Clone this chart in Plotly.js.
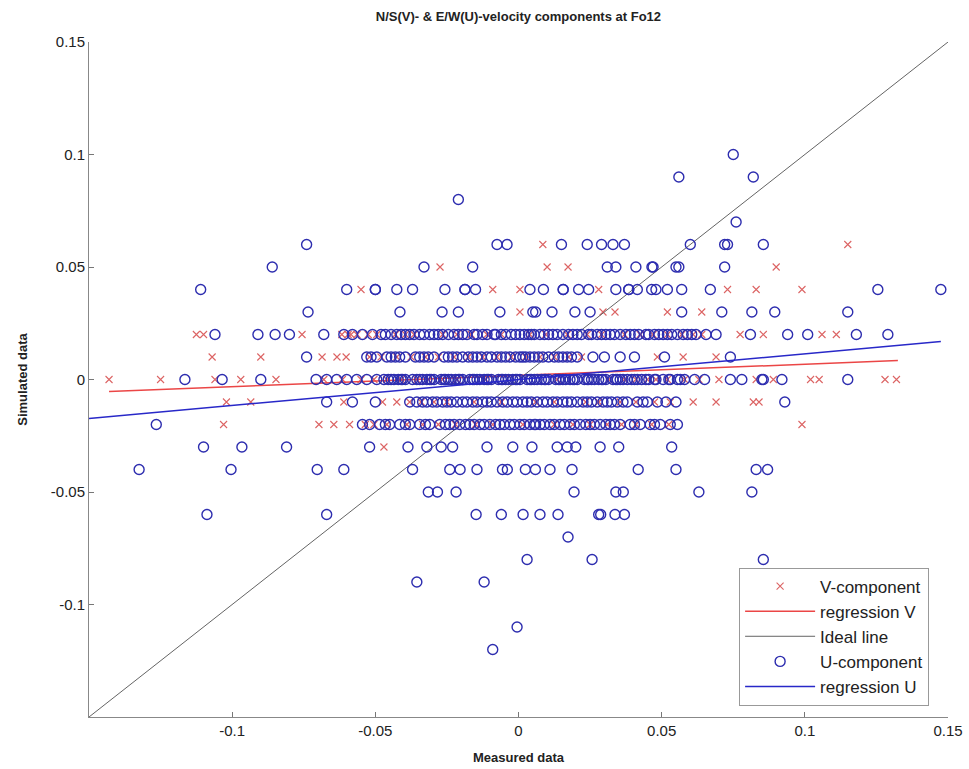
<!DOCTYPE html>
<html>
<head>
<meta charset="utf-8">
<script src="https://cdn.plot.ly/plotly-3.0.1.min.js"></script>
<style>html,body{margin:0;padding:0;background:#fff;}#chart{width:969px;height:769px;}</style>
</head>
<body>
<div id="chart"></div>
<script>
// ---- U-component (circles): measured x, simulated y, listed row by row ----
const uMeasured = [
  0.075,
  0.056, 0.082,
  -0.021,
  0.076,
  -0.074, -0.0075, -0.004, 0.015, 0.024, 0.029, 0.033, 0.037, 0.060, 0.072, 0.073, 0.0855,
  -0.086, -0.033, -0.016, 0.031, 0.034, 0.041, 0.0466, 0.047, 0.055, 0.056, 0.072,
  -0.111, -0.060, -0.050, -0.050, -0.0425, -0.037, -0.0257, -0.0187, -0.0187, -0.015, 0.004, 0.0087, 0.0156, 0.0156, 0.021, 0.0245, 0.034, 0.0385, 0.0385, 0.0415, 0.0465, 0.048, 0.052, 0.057, 0.067, 0.1255, 0.1475,
  -0.0735, -0.0414, -0.0267, -0.021, -0.0065, 0.005, 0.006, 0.0117, 0.0197, 0.025, 0.057, 0.071, 0.0815, 0.0895, 0.115,
  -0.106, -0.091, -0.085, -0.080, -0.068, -0.061, -0.058, -0.0545, -0.051, -0.048, -0.0445, -0.041, -0.038, -0.0345, -0.031, -0.028, -0.0245, -0.021, -0.018, -0.0145, -0.011, -0.008, -0.0045, -0.001, 0.002, 0.0055, 0.009, 0.012, 0.0155, 0.019, 0.022, 0.0255, 0.029, 0.032, 0.0355, 0.039, 0.042, 0.0455, 0.049, 0.052, 0.0555, 0.059, 0.062, 0.0655, 0.069, -0.0195, -0.0125, 0.0005, 0.0075, 0.0135, 0.0205, 0.0275, 0.0335, 0.0405, -0.0465, -0.0395, -0.033, -0.0265, -0.006, 0.0045, 0.0475, 0.0535, 0.0605, 0.081, 0.094, 0.101, 0.118, 0.129,
  -0.074, -0.053, -0.0495, -0.046, -0.043, -0.0395, -0.036, -0.033, -0.0295, -0.026, -0.023, -0.0195, -0.016, -0.013, -0.0095, -0.006, -0.003, 0.0005, 0.004, 0.007, 0.0105, 0.014, 0.017, 0.0205, -0.0245, -0.011, -0.001, 0.0085, -0.0445, -0.0345, -0.0175, -0.0045, 0.0025, 0.0155, 0.026, 0.030, 0.0355, 0.0405, 0.051, 0.074,
  -0.1165, -0.1035, -0.09, -0.0707, -0.067, -0.0635, -0.06, -0.0565, -0.053, -0.0495, -0.047, -0.0445, -0.042, -0.0395, -0.037, -0.0345, -0.032, -0.0295, -0.027, -0.0245, -0.022, -0.0195, -0.017, -0.0145, -0.012, -0.0095, -0.007, -0.0045, -0.002, 0.0005, 0.003, 0.0055, 0.008, 0.0105, 0.013, 0.0155, 0.018, 0.0205, 0.023, 0.0255, 0.028, 0.0305, 0.033, 0.0355, 0.038, 0.0405, 0.043, 0.0455, 0.048, 0.0505, 0.053, 0.0555, 0.058, 0.0615, 0.065, -0.041, -0.031, -0.026, -0.021, -0.016, -0.011, -0.006, -0.001, 0.004, 0.009, 0.014, 0.019, 0.024, 0.029, 0.034, -0.0455, -0.0405, -0.0355, -0.0305, -0.0255, -0.0205, -0.0155, -0.0105, -0.0055, -0.0005, 0.0045, 0.0095, 0.0145, 0.0195, 0.0245, 0.0295, 0.0345, 0.0395, 0.0445, 0.074, 0.078, 0.085, 0.0855, 0.092, 0.115,
  -0.067, -0.058, -0.050, -0.038, -0.0355, -0.032, -0.0285, -0.025, -0.0215, -0.018, -0.0145, -0.011, -0.0075, -0.004, -0.0005, 0.003, 0.0065, 0.010, 0.0135, 0.017, 0.0205, 0.024, 0.0275, 0.031, 0.0345, 0.038, 0.0415, 0.045, 0.0485, 0.0515, 0.055, -0.030, -0.016, -0.002, 0.012, 0.0225, -0.0235, -0.0095, 0.0045, 0.0185, 0.0325, 0.093,
  -0.1265, -0.0545, -0.052, -0.0485, -0.045, -0.0415, -0.038, -0.0345, -0.031, -0.0275, -0.024, -0.0205, -0.017, -0.0135, -0.010, -0.0065, -0.003, 0.0005, 0.004, 0.0075, 0.011, 0.0145, 0.018, 0.0215, 0.025, 0.0285, 0.032, 0.0355, 0.039, 0.0425, 0.046, 0.0495, 0.053, 0.0555, -0.005, 0.002, 0.009, 0.016, 0.006, -0.0225, -0.012, 0.0125, 0.0235, 0.0305,
  -0.110, -0.0966, -0.081, -0.052, -0.0386, -0.032, -0.027, -0.023, -0.011, -0.002, 0.0047, 0.0135, 0.017, 0.020, 0.0285, 0.035, 0.0535,
  -0.1325, -0.1004, -0.0703, -0.061, -0.037, -0.024, -0.0204, -0.0145, -0.0056, -0.0039, 0.0024, 0.0059, 0.011, 0.0187, 0.0418, 0.055, 0.083, 0.087,
  -0.0315, -0.0283, -0.0218, 0.0194, 0.034, 0.0366, 0.063, 0.0815,
  -0.1088, -0.067, -0.0148, -0.006, 0.0016, 0.0075, 0.0138, 0.028, 0.0287, 0.0337, 0.037,
  0.0173,
  0.003, 0.0257, 0.0855,
  -0.0355, -0.012,
  -0.0005,
  -0.009,
  // extra overlapping points in the five dense rows (0.02, 0.01, 0, -0.01, -0.02)
  -0.0425, -0.0365, -0.0295, -0.0225, -0.0155, -0.0085, -0.0025, 0.0035, 0.0105, 0.0175, 0.0245, 0.0305, 0.0375, 0.0445, 0.0505, 0.0575,
  -0.0515, -0.0415, -0.0315, -0.0215, -0.0145, -0.0075, 0.0015, 0.0055, 0.0125, 0.0185,
  -0.0435, -0.0335, -0.0235, -0.0135, -0.0035, 0.0065, 0.0165, 0.0265, 0.0365, 0.0415, 0.0475, 0.0525, 0.0565,
  -0.0335, -0.0265, -0.0195, -0.0125, -0.0055, 0.0015, 0.0085, 0.0155, 0.0255, 0.0295, 0.0365, 0.0435,
  -0.0465, -0.0395, -0.0325, -0.0255, -0.0185, -0.0155, -0.008, -0.0015, 0.0055, 0.0195, 0.0265, 0.0335, 0.0405, 0.0475
];
const uSimulated = [
  0.10,
  0.09, 0.09,
  0.08,
  0.07,
  0.06, 0.06, 0.06, 0.06, 0.06, 0.06, 0.06, 0.06, 0.06, 0.06, 0.06, 0.06,
  0.05, 0.05, 0.05, 0.05, 0.05, 0.05, 0.05, 0.05, 0.05, 0.05, 0.05,
  0.04, 0.04, 0.04, 0.04, 0.04, 0.04, 0.04, 0.04, 0.04, 0.04, 0.04, 0.04, 0.04, 0.04, 0.04, 0.04, 0.04, 0.04, 0.04, 0.04, 0.04, 0.04, 0.04, 0.04, 0.04, 0.04, 0.04,
  0.03, 0.03, 0.03, 0.03, 0.03, 0.03, 0.03, 0.03, 0.03, 0.03, 0.03, 0.03, 0.03, 0.03, 0.03,
  0.02, 0.02, 0.02, 0.02, 0.02, 0.02, 0.02, 0.02, 0.02, 0.02, 0.02, 0.02, 0.02, 0.02, 0.02, 0.02, 0.02, 0.02, 0.02, 0.02, 0.02, 0.02, 0.02, 0.02, 0.02, 0.02, 0.02, 0.02, 0.02, 0.02, 0.02, 0.02, 0.02, 0.02, 0.02, 0.02, 0.02, 0.02, 0.02, 0.02, 0.02, 0.02, 0.02, 0.02, 0.02, 0.02, 0.02, 0.02, 0.02, 0.02, 0.02, 0.02, 0.02, 0.02, 0.02, 0.02, 0.02, 0.02, 0.02, 0.02, 0.02, 0.02, 0.02, 0.02, 0.02, 0.02, 0.02, 0.02,
  0.01, 0.01, 0.01, 0.01, 0.01, 0.01, 0.01, 0.01, 0.01, 0.01, 0.01, 0.01, 0.01, 0.01, 0.01, 0.01, 0.01, 0.01, 0.01, 0.01, 0.01, 0.01, 0.01, 0.01, 0.01, 0.01, 0.01, 0.01, 0.01, 0.01, 0.01, 0.01, 0.01, 0.01, 0.01, 0.01, 0.01, 0.01, 0.01, 0.01,
  0, 0, 0, 0, 0, 0, 0, 0, 0, 0, 0, 0, 0, 0, 0, 0, 0, 0, 0, 0, 0, 0, 0, 0, 0, 0, 0, 0, 0, 0, 0, 0, 0, 0, 0, 0, 0, 0, 0, 0, 0, 0, 0, 0, 0, 0, 0, 0, 0, 0, 0, 0, 0, 0, 0, 0, 0, 0, 0, 0, 0, 0, 0, 0, 0, 0, 0, 0, 0, 0, 0, 0, 0, 0, 0, 0, 0, 0, 0, 0, 0, 0, 0, 0, 0, 0, 0, 0, 0, 0, 0, 0, 0, 0, 0,
  -0.01, -0.01, -0.01, -0.01, -0.01, -0.01, -0.01, -0.01, -0.01, -0.01, -0.01, -0.01, -0.01, -0.01, -0.01, -0.01, -0.01, -0.01, -0.01, -0.01, -0.01, -0.01, -0.01, -0.01, -0.01, -0.01, -0.01, -0.01, -0.01, -0.01, -0.01, -0.01, -0.01, -0.01, -0.01, -0.01, -0.01, -0.01, -0.01, -0.01, -0.01, -0.01,
  -0.02, -0.02, -0.02, -0.02, -0.02, -0.02, -0.02, -0.02, -0.02, -0.02, -0.02, -0.02, -0.02, -0.02, -0.02, -0.02, -0.02, -0.02, -0.02, -0.02, -0.02, -0.02, -0.02, -0.02, -0.02, -0.02, -0.02, -0.02, -0.02, -0.02, -0.02, -0.02, -0.02, -0.02, -0.02, -0.02, -0.02, -0.02, -0.02, -0.02, -0.02, -0.02, -0.02, -0.02,
  -0.03, -0.03, -0.03, -0.03, -0.03, -0.03, -0.03, -0.03, -0.03, -0.03, -0.03, -0.03, -0.03, -0.03, -0.03, -0.03, -0.03,
  -0.04, -0.04, -0.04, -0.04, -0.04, -0.04, -0.04, -0.04, -0.04, -0.04, -0.04, -0.04, -0.04, -0.04, -0.04, -0.04, -0.04, -0.04,
  -0.05, -0.05, -0.05, -0.05, -0.05, -0.05, -0.05, -0.05,
  -0.06, -0.06, -0.06, -0.06, -0.06, -0.06, -0.06, -0.06, -0.06, -0.06, -0.06,
  -0.07,
  -0.08, -0.08, -0.08,
  -0.09, -0.09,
  -0.11,
  -0.12,
  0.02, 0.02, 0.02, 0.02, 0.02, 0.02, 0.02, 0.02, 0.02, 0.02, 0.02, 0.02, 0.02, 0.02, 0.02, 0.02,
  0.01, 0.01, 0.01, 0.01, 0.01, 0.01, 0.01, 0.01, 0.01, 0.01,
  0, 0, 0, 0, 0, 0, 0, 0, 0, 0, 0, 0, 0,
  -0.01, -0.01, -0.01, -0.01, -0.01, -0.01, -0.01, -0.01, -0.01, -0.01, -0.01, -0.01,
  -0.02, -0.02, -0.02, -0.02, -0.02, -0.02, -0.02, -0.02, -0.02, -0.02, -0.02, -0.02, -0.02, -0.02
];

// ---- V-component (crosses) ----
const vMeasured = [
  0.0085, 0.115,
  -0.0274, 0.010, 0.0173, 0.090,
  -0.055, -0.009, 0.0005, 0.028, 0.073, 0.083, 0.099,
  0.0005, 0.0295, 0.0337, 0.052, 0.064,
  -0.1125, -0.110, -0.0756, -0.0617, -0.0585, -0.0564, -0.0595, -0.0525, -0.043, -0.0365, -0.0265, -0.0165, -0.006, 0.004, 0.017, 0.024, 0.037, 0.047, 0.057, 0.064, 0.0774, 0.0855, 0.106, 0.111,
  -0.107, -0.090, -0.0686, -0.0634, -0.0602, -0.048, -0.0375, -0.028, -0.0175, -0.0075, 0.0025, 0.0125, 0.0485, 0.0575, 0.069,
  -0.143, -0.125, -0.106, -0.097, -0.0847, -0.068, -0.0615, -0.055, -0.0505, -0.046, -0.041, -0.0355, 0.037, 0.045, 0.052, 0.058, 0.063, 0.070, 0.083, 0.089, 0.102, 0.105, 0.128, 0.132,
  -0.102, -0.0935, -0.061, -0.0425, -0.034, -0.025, -0.006, 0.006, 0.028, 0.041, 0.061, 0.069, 0.082, 0.084,
  -0.103, -0.0697, -0.0645, -0.059, -0.046, -0.039, -0.028, -0.015, 0.019, 0.031, 0.041, 0.099,
  -0.047,
  -0.0495, -0.0395, -0.0215, -0.011, 0.0095, 0.029, 0.0425, 0.052, 0.061,
  -0.052, -0.0425, -0.0325, -0.0225, -0.0125, -0.0025, 0.0075, 0.0175, 0.022,
  -0.0315, -0.0265, -0.0215, -0.0115, 0.0135, 0.0315, 0.041, 0.048,
  -0.0475, -0.038, -0.0295, -0.0155, 0.0125, 0.0235, 0.0355, 0.0475, 0.053,
  -0.0535, -0.0505, -0.0335, -0.022, -0.009, 0.0015, 0.0125, 0.025, 0.036, 0.0465, 0.0525
];
const vSimulated = [
  0.06, 0.06,
  0.05, 0.05, 0.05, 0.05,
  0.04, 0.04, 0.04, 0.04, 0.04, 0.04, 0.04,
  0.03, 0.03, 0.03, 0.03, 0.03,
  0.02, 0.02, 0.02, 0.02, 0.02, 0.02, 0.02, 0.02, 0.02, 0.02, 0.02, 0.02, 0.02, 0.02, 0.02, 0.02, 0.02, 0.02, 0.02, 0.02, 0.02, 0.02, 0.02, 0.02,
  0.01, 0.01, 0.01, 0.01, 0.01, 0.01, 0.01, 0.01, 0.01, 0.01, 0.01, 0.01, 0.01, 0.01, 0.01,
  0, 0, 0, 0, 0, 0, 0, 0, 0, 0, 0, 0, 0, 0, 0, 0, 0, 0, 0, 0, 0, 0, 0, 0,
  -0.01, -0.01, -0.01, -0.01, -0.01, -0.01, -0.01, -0.01, -0.01, -0.01, -0.01, -0.01, -0.01, -0.01,
  -0.02, -0.02, -0.02, -0.02, -0.02, -0.02, -0.02, -0.02, -0.02, -0.02, -0.02, -0.02,
  -0.03,
  0.02, 0.02, 0.02, 0.02, 0.02, 0.02, 0.02, 0.02, 0.02,
  0.01, 0.01, 0.01, 0.01, 0.01, 0.01, 0.01, 0.01, 0.01,
  0, 0, 0, 0, 0, 0, 0, 0,
  -0.01, -0.01, -0.01, -0.01, -0.01, -0.01, -0.01, -0.01, -0.01,
  -0.02, -0.02, -0.02, -0.02, -0.02, -0.02, -0.02, -0.02, -0.02, -0.02, -0.02
];

// ---- Lines (end points) ----
const regVx = [-0.143, 0.1325];
const regVy = [-0.0053, 0.0084];
const regUx = [-0.15, 0.1475];
const regUy = [-0.0173, 0.0169];
const idealX = [-0.15, 0.15];
const idealY = [-0.15, 0.15];

const tickVals = [-0.1, -0.05, 0, 0.05, 0.1, 0.15];
const tickText = ['-0.1', '-0.05', '0', '0.05', '0.1', '0.15'];

const FONT = 'Liberation Sans, Arial, sans-serif';

const traces = [
  {x: vMeasured, y: vSimulated, type: 'scatter', mode: 'markers', name: 'V-component',
   marker: {symbol: 'x-thin-open', size: 7, color: 'rgb(220,100,100)', line: {color: 'rgb(220,100,100)', width: 1.1}}},
  {x: regVx, y: regVy, type: 'scatter', mode: 'lines', name: 'regression V',
   line: {color: 'rgb(235,70,70)', width: 1.5}},
  {x: idealX, y: idealY, type: 'scatter', mode: 'lines', name: 'Ideal line',
   line: {color: 'rgb(100,100,100)', width: 1}},
  {x: uMeasured, y: uSimulated, type: 'scatter', mode: 'markers', name: 'U-component',
   marker: {symbol: 'circle-open', size: 10, color: 'rgb(45,45,175)', line: {color: 'rgb(45,45,175)', width: 1.4}}},
  {x: regUx, y: regUy, type: 'scatter', mode: 'lines', name: 'regression U',
   line: {color: 'rgb(40,40,200)', width: 1.5}}
];

const axisCommon = {
  range: [-0.15, 0.15], tickmode: 'array', tickvals: tickVals, ticktext: tickText,
  ticks: 'inside', ticklen: 5, tickcolor: '#777', tickwidth: 1,
  showline: true, linecolor: '#888', linewidth: 1, mirror: false,
  showgrid: false, zeroline: false,
  tickfont: {family: FONT, size: 15, color: '#222'}
};

const layout = {
  width: 969, height: 769,
  margin: {l: 89, r: 21, t: 42, b: 52},
  paper_bgcolor: '#fff', plot_bgcolor: '#fff',
  showlegend: true,
  title: {text: '<b>N/S(V)- &amp; E/W(U)-velocity components at Fo12</b>', x: 0.535, xanchor: 'center', y: 0.979, yanchor: 'middle',
          font: {family: FONT, size: 13, color: '#222'}},
  xaxis: Object.assign({}, axisCommon, {
    title: {text: '<b>Measured data</b>', font: {family: FONT, size: 13, color: '#222'}, standoff: 14}
  }),
  yaxis: Object.assign({}, axisCommon, {
    title: {text: '<b>Simulated data</b>', font: {family: FONT, size: 13, color: '#222'}, standoff: 20}
  }),
  legend: {x: 0.978, xanchor: 'right', y: 0.017, yanchor: 'bottom',
           bgcolor: '#fff', bordercolor: '#999', borderwidth: 1,
           font: {family: FONT, size: 17, color: '#222'}, itemwidth: 70, tracegroupgap: 0}
};

Plotly.newPlot('chart', traces, layout, {displayModeBar: false, staticPlot: true});
</script>
</body>
</html>
